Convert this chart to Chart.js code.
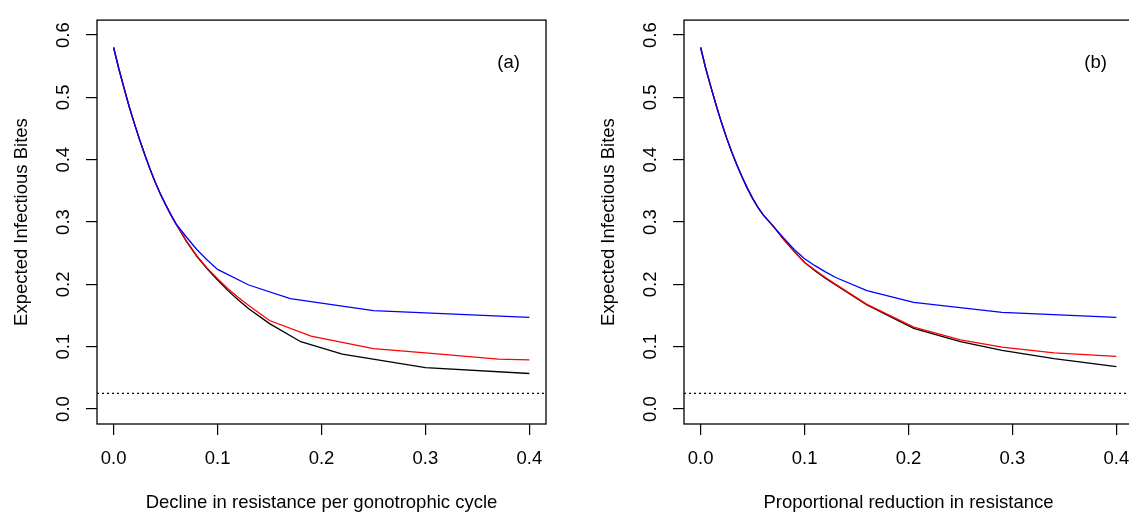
<!DOCTYPE html>
<html>
<head>
<meta charset="utf-8">
<script src="https://cdn.jsdelivr.net/npm/chart.js@4.4.1/dist/chart.umd.min.js"></script>
<style>
  html, body { margin: 0; padding: 0; background: #fff; overflow: hidden; }
  #wrap { position: relative; width: 1129px; height: 514px; overflow: hidden; }
  canvas { position: absolute; top: 0; }
  #panelA { left: 0; }
  #panelB { left: 587px; }
</style>
</head>
<body>
<div id="wrap">
  <canvas id="panelA" width="587" height="514"></canvas>
  <canvas id="panelB" width="587" height="514"></canvas>
</div>
<script>
// axis ticks shared by both panels
const xTicks = [0, 0.1, 0.2, 0.3, 0.4]
const yTicks = [0, 0.1, 0.2, 0.3, 0.4, 0.5, 0.6]
const threshold = 0.025

// early part of the curves, sampled finely (all three series coincide here)
const earlyX = [0, 0.005, 0.01, 0.015, 0.02, 0.025, 0.03, 0.035, 0.04, 0.045, 0.05, 0.055, 0.06]
const aEarlyY = [0.580, 0.546, 0.515, 0.485, 0.458, 0.432, 0.408, 0.385, 0.364, 0.345, 0.328, 0.312, 0.297]
const bEarlyY = [0.580, 0.546, 0.516, 0.487, 0.460, 0.435, 0.412, 0.391, 0.372, 0.354, 0.338, 0.324, 0.312]

// (a) decline in resistance per gonotrophic cycle
const aBlackX = [0.07, 0.08, 0.09, 0.10, 0.11, 0.12, 0.13, 0.15, 0.18, 0.22, 0.30, 0.40]
const aBlackY = [0.269, 0.245, 0.225, 0.207, 0.190, 0.175, 0.161, 0.137, 0.108, 0.088, 0.0665, 0.057]
const aRedX = [0.07, 0.08, 0.09, 0.10, 0.11, 0.12, 0.13, 0.15, 0.19, 0.25, 0.30, 0.37, 0.40]
const aRedY = [0.270, 0.246, 0.226, 0.209, 0.193, 0.179, 0.166, 0.142, 0.117, 0.097, 0.090, 0.080, 0.079]
const aBlueX = [0.07, 0.08, 0.09, 0.10, 0.13, 0.17, 0.25, 0.40]
const aBlueY = [0.276, 0.256, 0.239, 0.224, 0.199, 0.177, 0.158, 0.147]

// (b) proportional reduction in resistance
const bBlackX = [0.07, 0.08, 0.09, 0.10, 0.11, 0.12, 0.13, 0.16, 0.205, 0.25, 0.29, 0.34, 0.40]
const bBlackY = [0.293, 0.272, 0.253, 0.235, 0.222, 0.210, 0.199, 0.167, 0.1295, 0.108, 0.094, 0.081, 0.068]
const bRedX = [0.07, 0.08, 0.09, 0.10, 0.11, 0.12, 0.13, 0.16, 0.205, 0.25, 0.29, 0.34, 0.40]
const bRedY = [0.293, 0.272, 0.253, 0.235, 0.223, 0.211, 0.200, 0.168, 0.1315, 0.111, 0.0995, 0.090, 0.0845]
const bBlueX = [0.07, 0.08, 0.09, 0.10, 0.11, 0.12, 0.13, 0.16, 0.205, 0.29, 0.40]
const bBlueY = [0.293, 0.274, 0.256, 0.241, 0.230, 0.220, 0.211, 0.190, 0.171, 0.155, 0.147]

const FONT = "'Liberation Sans', Arial, Helvetica, sans-serif"
const FSIZE = 18.5

function pts(ey, xs, ys) {
  const head = earlyX.map((x, i) => ({ x: x, y: ey[i] }))
  return head.concat(xs.map((x, i) => ({ x: x, y: ys[i] })))
}

// box round the plot, dotted reference line and the panel tag
const framePlugin = {
  id: "frame",
  beforeDatasetsDraw(chart) {
    const ctx = chart.ctx
    const y = chart.scales.y.getPixelForValue(threshold)
    const a = chart.chartArea
    ctx.save()
    ctx.strokeStyle = "#000"
    ctx.lineWidth = 1.2
    ctx.setLineDash([2, 3])
    ctx.beginPath()
    ctx.moveTo(a.left, y)
    ctx.lineTo(a.right, y)
    ctx.stroke()
    ctx.restore()
  },
  afterDraw(chart, args, opts) {
    const ctx = chart.ctx
    const a = chart.chartArea
    ctx.save()
    ctx.strokeStyle = "#000"
    ctx.lineWidth = 1.3
    ctx.strokeRect(a.left, a.top, a.right - a.left, a.bottom - a.top)
    ctx.fillStyle = "#000"
    ctx.font = FSIZE + "px " + FONT
    ctx.textAlign = "center"
    ctx.textBaseline = "middle"
    ctx.fillText(opts.tag, chart.scales.x.getPixelForValue(0.38), chart.scales.y.getPixelForValue(0.556))
    ctx.restore()
  }
}

function makePanel(id, black, red, blue, tag, xTitle) {
  const line = (data, color, order) => ({
    data: data,
    borderColor: color,
    borderWidth: 1.3,
    pointRadius: 0,
    tension: 0,
    fill: false,
    order: order
  })
  return new Chart(id, {
    type: "line",
    data: {
      datasets: [
        line(black, "#000000", 2),
        line(red, "#ff0000", 1),
        line(blue, "#0000ff", 0)
      ]
    },
    plugins: [framePlugin],
    options: {
      responsive: false,
      animation: false,
      devicePixelRatio: 1,
      layout: { padding: { top: 15, right: 41, left: 0, bottom: 0 } },
      plugins: {
        legend: { display: false },
        tooltip: { enabled: false },
        frame: { tag: tag }
      },
      scales: {
        x: {
          type: "linear",
          min: -0.016,
          max: 0.416,
          afterBuildTicks: (s) => { s.ticks = xTicks.map(v => ({ value: v })) },
          afterFit: (s) => { s.height = 90 },
          grid: { drawOnChartArea: false, drawTicks: true, tickLength: 11, color: "#000", lineWidth: 1.2 },
          border: { display: false },
          ticks: {
            color: "#000",
            font: { family: FONT, size: FSIZE },
            padding: 13,
            maxRotation: 0,
            autoSkip: false,
            callback: (v) => v.toFixed(1)
          },
          title: {
            display: true,
            text: xTitle,
            color: "#000",
            font: { family: FONT, size: FSIZE },
            padding: { top: 0, bottom: 0 }
          }
        },
        y: {
          type: "linear",
          min: -0.024,
          max: 0.624,
          afterBuildTicks: (s) => { s.ticks = yTicks.map(v => ({ value: v })) },
          afterFit: (s) => { s.width = 97 },
          grid: { drawOnChartArea: false, drawTicks: true, tickLength: 11, color: "#000", lineWidth: 1.2 },
          border: { display: false },
          ticks: {
            color: "#000",
            font: { family: FONT, size: FSIZE },
            padding: 9,
            minRotation: 90,
            maxRotation: 90,
            crossAlign: "center",
            autoSkip: false,
            callback: (v) => v.toFixed(1)
          },
          title: {
            display: true,
            text: "Expected Infectious Bites",
            color: "#000",
            font: { family: FONT, size: FSIZE },
            padding: { top: 10.5, bottom: 0 }
          }
        }
      }
    }
  })
}

makePanel("panelA", pts(aEarlyY, aBlackX, aBlackY), pts(aEarlyY, aRedX, aRedY), pts(aEarlyY, aBlueX, aBlueY),
  "(a)", "Decline in resistance per gonotrophic cycle")
makePanel("panelB", pts(bEarlyY, bBlackX, bBlackY), pts(bEarlyY, bRedX, bRedY), pts(bEarlyY, bBlueX, bBlueY),
  "(b)", "Proportional reduction in resistance")
</script>
</body>
</html>
